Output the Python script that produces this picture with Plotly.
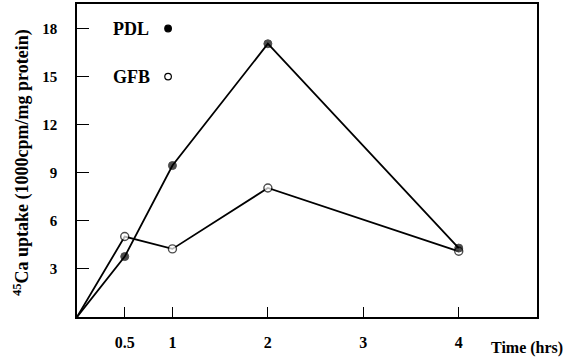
import plotly.graph_objects as go

time_hrs = [0, 0.5, 1, 2, 4]
pdl = [0, 3.77, 9.45, 17.05, 4.3]
gfb = [0, 5.02, 4.25, 8.05, 4.1]
x_ticks = [0.5, 1, 2, 3, 4]
x_tick_labels = ["0.5", "1", "2", "3", "4"]
y_ticks = [3, 6, 9, 12, 15, 18]
y_tick_labels = ["3", "6", "9", "12", "15", "18"]
legend_names = ["PDL", "GFB"]

FONT = "Liberation Serif"
marker_sizes = [0] + [8] * (len(time_hrs) - 1)

fig = go.Figure()
fig.add_trace(go.Scatter(
    x=time_hrs, y=gfb, mode="lines+markers", name="GFB",
    line=dict(color="black", width=1.8),
    marker=dict(symbol="circle", size=marker_sizes, color="white",
                line=dict(color="black", width=1.4)),
))
fig.add_trace(go.Scatter(
    x=time_hrs, y=pdl, mode="lines+markers", name="PDL",
    line=dict(color="black", width=1.8),
    marker=dict(symbol="circle", size=marker_sizes, color="black",
                line=dict(color="black", width=1)),
))

axis_common = dict(
    showgrid=False, zeroline=False, showline=True, linecolor="black", linewidth=1.5,
    mirror=True, ticks="inside", tickcolor="black", automargin=False,
)

fig.update_layout(
    width=586, height=362,
    margin=dict(l=77, r=49, t=4, b=45),
    paper_bgcolor="white", plot_bgcolor="white",
    showlegend=False,
    xaxis=dict(range=[0, 4.82], tickvals=x_ticks, ticktext=x_tick_labels,
               ticklen=10, tickwidth=1.2, ticklabelstandoff=10,
               tickfont=dict(family=FONT, size=16, color="black", weight="bold"),
               **axis_common),
    yaxis=dict(range=[0, 19.53], tickvals=y_ticks, ticktext=y_tick_labels,
               ticklen=12, tickwidth=1.2, ticklabelstandoff=15,
               tickfont=dict(family=FONT, size=15, color="black", weight="bold"),
               **axis_common),
)

ann_font = dict(family=FONT, size=18, color="black", weight="bold")
legend_rows = [(legend_names[0], 18, "black"), (legend_names[1], 15, "white")]
for name, yv, fill in legend_rows:
    fig.add_annotation(text=name, x=0.074, y=yv, xref="paper", yref="y", xanchor="left",
                       yanchor="middle", showarrow=False, font=ann_font)
    fig.add_shape(type="circle", xref="paper", yref="y",
                  xsizemode="pixel", ysizemode="pixel", xanchor=0.198, yanchor=yv,
                  x0=-3.3, x1=3.3, y0=-3.3, y1=3.3,
                  fillcolor=fill, line=dict(color="black", width=1.2))

fig.add_annotation(text="Time (hrs)", x=0.978, y=-0.1, xref="paper", yref="paper",
                   xanchor="center", yanchor="middle", showarrow=False,
                   font=dict(family=FONT, size=16, color="black", weight="bold"))
fig.add_annotation(text="<sup>45</sup>Ca uptake (1000cpm/mg protein)", x=-0.1196, y=0.495,
                   xref="paper", yref="paper", xanchor="center", yanchor="middle",
                   textangle=-90, showarrow=False,
                   font=dict(family=FONT, size=18, color="black", weight="bold"))

fig.write_html("out.html", config={"displayModeBar": False},
               post_script="document.body.style.margin='0';")
